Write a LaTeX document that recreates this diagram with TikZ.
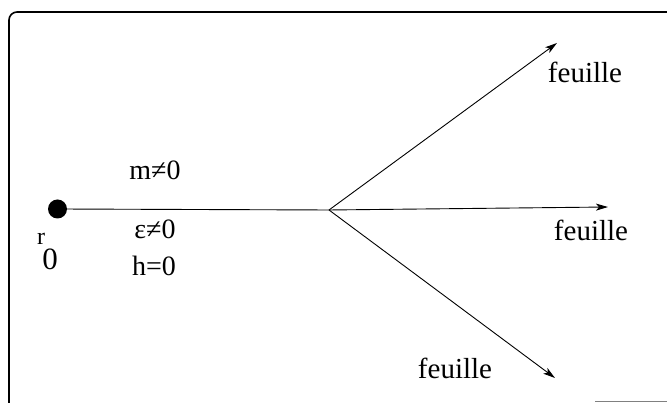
\documentclass[tikz,border=0pt]{standalone}
\usepackage{fontspec}
\setmainfont{Liberation Serif}
\usetikzlibrary{arrows.meta}
\begin{document}
\begin{tikzpicture}[x=1pt,y=1pt,
  frame/.style={line width=1.6pt},
  edge/.style={line width=0.9pt},
  arr/.style={edge,-{Stealth[length=12pt,width=7pt,inset=3pt]}},
  lbl/.style={inner sep=0pt,font=\fontsize{28}{30}\selectfont},
  leaf/.style={inner sep=0pt,font=\fontsize{29}{32}\selectfont}]
\useasboundingbox (0,0) rectangle (667,403);
% frame
\draw[frame,rounded corners=8pt] (9,0) -- (9,391) -- (667,391);
\draw[line width=1pt,gray] (595,1.5) -- (667,1.5);
% nodes
\node[circle,fill=black,minimum size=19pt,inner sep=0pt] (r) at (57.5,194) {};
\coordinate (b) at (329,193);
\coordinate (t1) at (557,360);
\coordinate (t2) at (608,196);
\coordinate (t3) at (555,25);
\draw[edge] (r) -- (b);
\draw[arr] (b) -- (t1);
\draw[arr] (b) -- (t2);
\draw[arr] (b) -- (t3);
% labels
\node[lbl] (m) at (155,233) {m≠0};
\node[lbl] (e) at (155,174) {ε≠0};
\node[lbl] (h) at (154,137) {h=0};
\node[lbl,font=\fontsize{24}{26}\selectfont] (rr) at (41,164) {r};
\node[lbl,font=\fontsize{31}{33}\selectfont] (z) at (50,144) {0};
\node[leaf] (f1) at (585,331) {feuille};
\node[leaf] (f2) at (591,173) {feuille};
\node[leaf] (f3) at (455,35) {feuille};
\end{tikzpicture}
\end{document}
